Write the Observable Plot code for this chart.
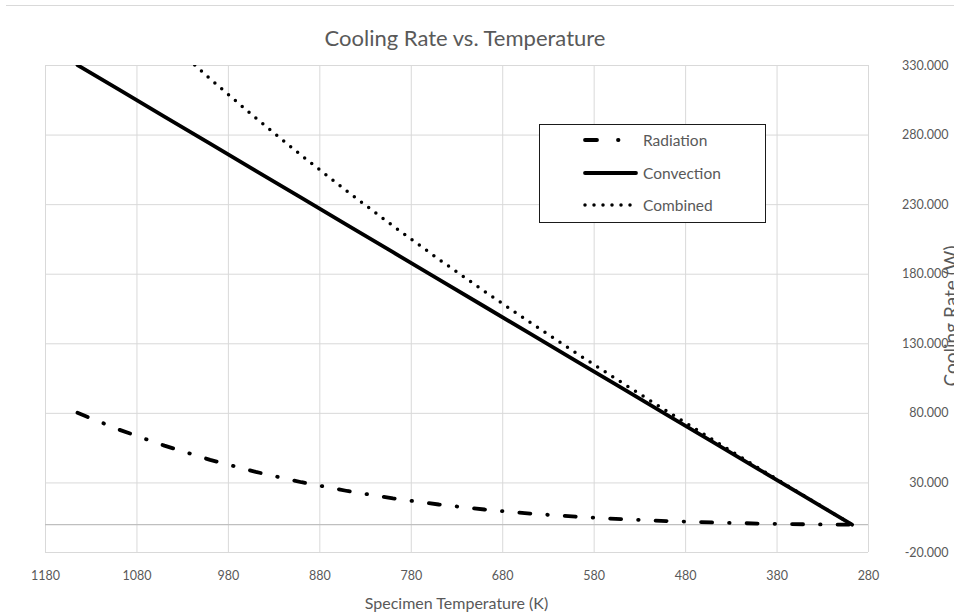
<!DOCTYPE html>
<html>
<head>
<meta charset="utf-8">
<script src="https://cdn.jsdelivr.net/npm/d3@7"></script>
<script src="https://cdn.jsdelivr.net/npm/@observablehq/plot@0.6"></script>
<style>
  html, body { margin: 0; padding: 0; background: #fff; }
  #wrap { position: relative; width: 954px; height: 616px; overflow: hidden; font-family: Lato, "Open Sans", sans-serif; color: #595959; }
  #topline { position: absolute; left: 6px; right: 0; top: 5px; height: 1px; background: #d9d9d9; }
  #title { position: absolute; left: 0; width: 930px; top: 24px; text-align: center; font-size: 22px; line-height: 28px; color: #595959; }
  #chart { position: absolute; left: 0; top: 0; }
  #xtitle { position: absolute; left: 0; width: 913px; top: 593px; text-align: center; font-size: 16px; line-height: 20px; color: #595959; }
  #ytitle { position: absolute; left: 951px; top: 316px; transform: translate(-50%, -50%) rotate(-90deg); white-space: nowrap; font-size: 19px; line-height: 22px; color: #595959; }
  #legend { position: absolute; left: 539px; top: 124px; width: 225px; height: 97px; border: 1.5px solid #1a1a1a; background: #fff; font-size: 15.5px; color: #595959; }
  .row { position: absolute; left: 43px; height: 20px; display: flex; align-items: center; }
  .row svg { display: block; margin-right: 4px; }
</style>
</head>
<body>
<div id="wrap">
  <div id="topline"></div>
  <div id="title">Cooling Rate vs. Temperature</div>
  <div id="chart"></div>
  <div id="xtitle">Specimen Temperature (K)</div>
  <div id="ytitle">Cooling Rate (W)</div>
  <div id="legend"></div>
</div>
<script>
// ---- data ----
const temperature = [1145, 1100, 1050, 1000, 950, 900, 850, 800, 750, 700, 650, 600, 550, 500, 450, 400, 350, 298];
const radiation   = [80.4, 68.4, 56.8, 46.6, 37.9, 30.5, 24.2, 18.9, 14.5, 10.9, 8.0, 5.7, 3.9, 2.6, 1.6, 0.8, 0.3, 0];
const convection  = [330.3, 312.8, 293.3, 273.8, 254.3, 234.8, 215.3, 195.8, 176.3, 156.8, 137.3, 117.8, 98.3, 78.8, 59.3, 39.8, 20.3, 0];
const combined    = [410.7, 381.2, 350.1, 320.4, 292.2, 265.3, 239.5, 214.7, 190.8, 167.7, 145.3, 123.5, 102.2, 81.4, 60.9, 40.6, 20.6, 0];
const seriesNames = ["Radiation", "Convection", "Combined"];
const xTicks = [1180, 1080, 980, 880, 780, 680, 580, 480, 380, 280];
const yTicks = [-20, 30, 80, 130, 180, 230, 280, 330];

const rows = temperature.map((t, i) => ({T: t, rad: radiation[i], conv: convection[i], comb: combined[i]}));

const styles = {
  Radiation:  {stroke: "#000", strokeWidth: 3.8, strokeDasharray: "11,17,0.5,17", strokeLinecap: "round"},
  Convection: {stroke: "#000", strokeWidth: 3.8, strokeLinecap: "round"},
  Combined:   {stroke: "#000", strokeWidth: 3.5, strokeDasharray: "0,9", strokeLinecap: "round"}
};

const chart = Plot.plot({
  width: 954,
  height: 616,
  marginTop: 65,
  marginBottom: 64,
  marginLeft: 45,
  marginRight: 86,
  style: {fontFamily: 'Lato, "Open Sans", sans-serif', fontSize: "12.5px", color: "#595959", background: "transparent"},
  x: {domain: [1180, 280]},
  y: {domain: [-20, 330]},
  marks: [
    Plot.gridX(xTicks, {stroke: "#d9d9d9", strokeOpacity: 1, strokeWidth: 1}),
    Plot.gridY(yTicks, {stroke: "#d9d9d9", strokeOpacity: 1, strokeWidth: 1}),
    Plot.ruleY([0], {stroke: "#bfbfbf", strokeWidth: 1.2}),
    Plot.axisX(xTicks, {tickSize: 0, tickPadding: 19, label: null, tickFormat: d => String(d), fill: "#595959"}),
    Plot.axisY(yTicks, {anchor: "right", tickSize: 0, tickPadding: 0, textAnchor: "end", dx: 80, label: null, tickFormat: d => d.toFixed(3), fill: "#595959"}),
    Plot.line(rows, {x: "T", y: "rad", clip: true, ...styles.Radiation}),
    Plot.line(rows, {x: "T", y: "conv", clip: true, ...styles.Convection}),
    Plot.line(rows, {x: "T", y: "comb", clip: true, ...styles.Combined})
  ]
});
document.getElementById("chart").appendChild(chart);

// legend
const legend = document.getElementById("legend");
const rowTops = [5, 38, 70];
seriesNames.forEach((name, i) => {
  const s = styles[name];
  const div = document.createElement("div");
  div.className = "row";
  div.style.top = rowTops[i] + "px";
  const ns = "http://www.w3.org/2000/svg";
  const svg = document.createElementNS(ns, "svg");
  svg.setAttribute("width", 56);
  svg.setAttribute("height", 10);
  const ln = document.createElementNS(ns, "line");
  ln.setAttribute("x1", 2); ln.setAttribute("x2", 53);
  ln.setAttribute("y1", 5); ln.setAttribute("y2", 5);
  ln.setAttribute("stroke", s.stroke);
  ln.setAttribute("stroke-width", s.strokeWidth);
  ln.setAttribute("stroke-linecap", s.strokeLinecap);
  if (s.strokeDasharray) ln.setAttribute("stroke-dasharray", name === "Radiation" ? "12,21,0.5,21" : s.strokeDasharray);
  svg.appendChild(ln);
  div.appendChild(svg);
  const span = document.createElement("span");
  span.textContent = name;
  div.appendChild(span);
  legend.appendChild(div);
});
</script>
</body>
</html>
